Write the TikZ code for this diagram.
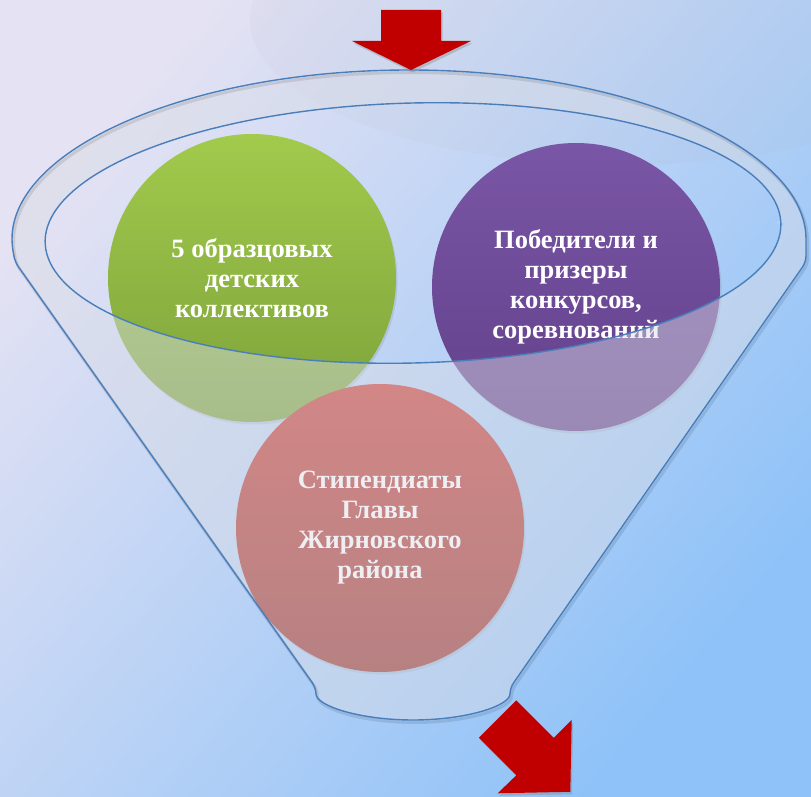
\documentclass[tikz,border=0pt]{standalone}
\usepackage{fontspec}
\setmainfont{Liberation Serif}
\usetikzlibrary{shadows}
\definecolor{bgA}{HTML}{E4E2F3}
\definecolor{bgM}{HTML}{C2D5EE}
\definecolor{bgB}{HTML}{8EC2F8}
\definecolor{greenT}{HTML}{A2CA4C}
\definecolor{greenB}{HTML}{7CA23A}
\definecolor{purpT}{HTML}{7A56A6}
\definecolor{purpB}{HTML}{62408A}
\definecolor{pinkT}{HTML}{CC3A32}
\definecolor{pinkB}{HTML}{98302A}
\definecolor{funnelfill}{HTML}{DADDE6}
\definecolor{funnelline}{HTML}{4A7EBB}
\definecolor{arrowred}{HTML}{C00000}
\tikzset{
  bubble/.style={circle, minimum size=288pt, inner sep=0pt, text=white,
    font=\bfseries\fontsize{26.5}{30}\selectfont, align=center,
    drop shadow={opacity=0.22, shadow xshift=1.5pt, shadow yshift=-2.5pt}},
  fline/.style={draw=funnelline, line width=1.4pt, line join=round},
  redarrow/.style={fill=arrowred, drop shadow={opacity=0.35, shadow xshift=1.5pt, shadow yshift=-2.5pt}}
}
\def\outerpath{(15,534) -- (12,551) arc[start angle=180,end angle=0,x radius=397,y radius=175] -- (806,534) -- (510,108) arc[start angle=0,end angle=-180,x radius=97,y radius=32] -- cycle}
\def\innerpath{plot[domain=0:360, samples=180] ({413+368*cos(\x)*cos(1.5)-130*sin(\x)*sin(1.5)}, {563+368*cos(\x)*sin(1.5)+130*sin(\x)*cos(1.5)}) -- cycle}
\begin{document}
\begin{tikzpicture}[x=1pt,y=1pt]
\useasboundingbox (0,0) rectangle (811,796);
% background
\shade[top color=bgA, middle color=bgM, bottom color=bgB, shading angle=50] (0,0) rectangle (811,796);
\fill[gray!60!white, opacity=0.07] (620,776) ellipse [x radius=370, y radius=145];
% circles
\node[bubble, top color=greenT, bottom color=greenB] (g) at (252,518) {5 образцовых\\детских\\коллективов};
\node[bubble, top color=purpT, bottom color=purpB] (p) at (576,509) {Победители и\\призеры\\конкурсов,\\соревнований};
\node[bubble, top color=pinkT, bottom color=pinkB] (r) at (380,268) {Стипендиаты\\Главы\\Жирновского\\района};
% funnel body overlay
\fill[funnelfill, opacity=0.47, even odd rule, rounded corners=6pt] \outerpath \innerpath;
% funnel outlines with faint shadow
\draw[black, opacity=0.10, line width=3pt, shift={(1.5,-2.5)}, rounded corners=6pt] \outerpath;
\draw[fline, rounded corners=6pt] \outerpath;
\draw[fline] \innerpath;
% arrows
\fill[redarrow] (381,786) -- (441,786) -- (441,755) -- (471,755) -- (411,726) -- (352,755) -- (381,755) -- cycle;
\fill[redarrow] (516.2,95.7) -- (553.7,58.2) -- (571.7,76.2) -- (570.3,4.2) -- (497.7,2.7) -- (516.3,20.7) -- (478.8,58.3) -- cycle;
\end{tikzpicture}
\end{document}
